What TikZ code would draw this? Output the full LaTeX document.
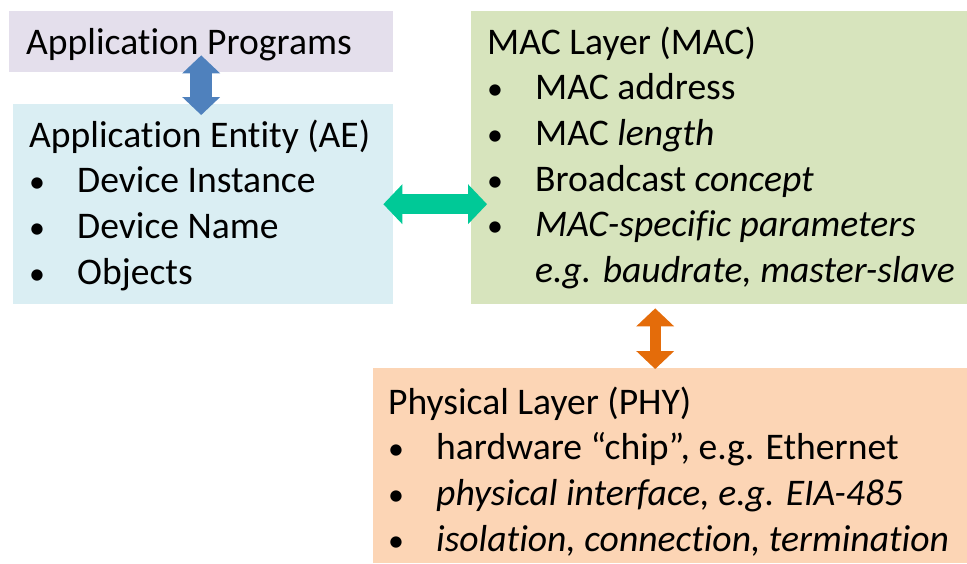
\documentclass[tikz,border=0pt]{standalone}
\usepackage{fontspec}
\setmainfont{Carlito}[Ligatures={NoCommon}]
\usetikzlibrary{arrows.meta}

\definecolor{progfill}{HTML}{E4DFEC}
\definecolor{aefill}{HTML}{DAEEF3}
\definecolor{macfill}{HTML}{D7E4BD}
\definecolor{phyfill}{HTML}{FCD5B5}
\definecolor{progarrow}{HTML}{4F81BD}
\definecolor{aearrow}{HTML}{00C997}
\definecolor{phyarrow}{HTML}{E46C0A}

\newcommand\layerbullet{\makebox[48pt][l]{\scalebox{0.85}{\textbullet}}}
\newcommand\layerindent{\makebox[48pt]{}}

\begin{document}
\begin{tikzpicture}[
            x=1pt, y=-1pt,
            layer/.style={fill=#1, inner sep=0pt, anchor=north west},
            lines/.style={align=left, inner sep=0pt, anchor=north west,
                font=\fontsize{37.6}{45.7}\selectfont},
            fatarrow/.style n args={4}{draw=#1, line width=#2,
                arrows={Triangle[width=#3,length=#4,line width=0pt]-Triangle[width=#3,length=#4,line width=0pt]}},
            ]
            \useasboundingbox (0,0) rectangle (967,563);
            % layer boxes
            \node[layer=progfill, minimum width=384pt, minimum height=61pt] (prog) at (9,11) {};
            \node[layer=aefill, minimum width=380pt, minimum height=200pt] (ae) at (13,104) {};
            \node[layer=macfill, minimum width=496pt, minimum height=293pt] (mac) at (471,11) {};
            \node[layer=phyfill, minimum width=594pt, minimum height=195pt] (phy) at (373,368) {};
            % texts
            \node[lines] (progtxt) at (26,22) {\strut Application Programs};
            \node[lines] (aetxt) at (29,115) {\strut Application Entity (AE)\\
                \layerbullet Device Instance\\
                \layerbullet Device Name\\
                \layerbullet Objects};
            \node[lines] (mactxt) at (487,22) {\strut MAC Layer (MAC)\\
                \layerbullet MAC address\\
                \layerbullet MAC \textit{length}\\
                \layerbullet Broadcast \textit{concept}\\
                \layerbullet \textit{MAC-specific parameters}\\
                \layerindent \textit{e.g. baudrate, master-slave}};
            \node[lines] (phytxt) at (388,382) {\strut Physical Layer (PHY)\\
                \layerbullet hardware “chip”, e.g. Ethernet\\
                \layerbullet \textit{physical interface, e.g. EIA-485}\\
                \layerbullet \textit{isolation, connection, termination}};
            % arrows between layers
            \draw[fatarrow={progarrow}{22pt}{38pt}{18pt}]
                ([yshift=17pt]prog.south) -- ([yshift=-11pt]prog.south |- ae.north);
            \draw[fatarrow={aearrow}{20pt}{40pt}{19pt}]
                ([xshift=-10pt]ae.east) -- ([xshift=16pt]ae.east -| mac.west);
            \draw[fatarrow={phyarrow}{11pt}{38pt}{18pt}]
                ([xshift=-64pt,yshift=-4pt]mac.south) -- ([xshift=-64pt,yshift=-1pt]phy.north -| mac.south);
        \end{tikzpicture}
\end{document}
